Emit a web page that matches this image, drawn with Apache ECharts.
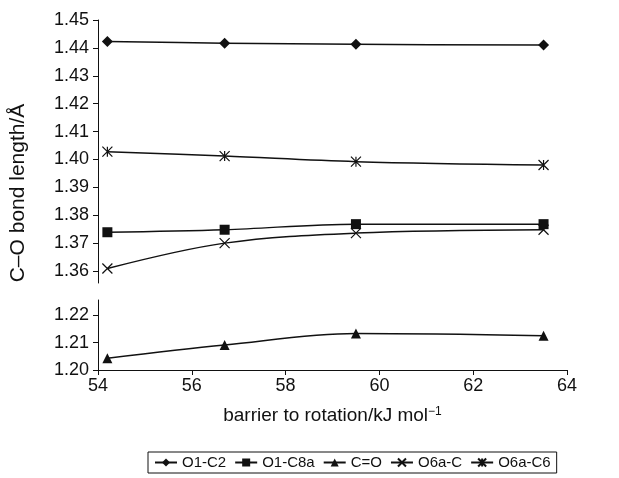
<!DOCTYPE html>
<html>
<head>
<meta charset="utf-8">
<script src="https://cdn.jsdelivr.net/npm/echarts@6/dist/echarts.min.js"></script>
<style>
  html, body { margin: 0; padding: 0; background: #fff; }
  #chart { width: 619px; height: 478px; }
</style>
</head>
<body>
<div id="chart"></div>
<script>
  // barrier to rotation (kJ/mol)
  const barrier = [54.2, 56.7, 59.5, 63.5]
  // bond lengths (Å)
  const o1c2 = [1.4423, 1.4417, 1.4413, 1.4410]
  const o1c8a = [1.3739, 1.3748, 1.3768, 1.3768]
  const cEqO = [1.2043, 1.2091, 1.2133, 1.2125]
  const o6aC = [1.3609, 1.3700, 1.3736, 1.3748]
  const o6aC6 = [1.4028, 1.4012, 1.3992, 1.3980]
  const topTicks = [1.36, 1.37, 1.38, 1.39, 1.40, 1.41, 1.42, 1.43, 1.44, 1.45]
  const bottomTicks = [1.20, 1.21, 1.22]

  const pairs = (ys) => barrier.map((x, i) => [x, ys[i]])
  const FONT = 'Liberation Sans, Arial, sans-serif'
  const ink = '#111'

  const xSymbol = 'path://M0,0 L10,10 M10,0 L0,10'
  const starSymbol = 'path://M0,0 L10,10 M10,0 L0,10 M5,0 L5,10'

  const chart = echarts.init(document.getElementById('chart'))

  const yAxisBase = (ticks) => ({
    type: 'value',
    axisLine: { show: true, lineStyle: { color: ink, width: 1 } },
    axisTick: { show: true, length: 5, customValues: ticks, lineStyle: { color: ink } },
    axisLabel: {
      customValues: ticks,
      color: ink, fontSize: 18, fontFamily: FONT, margin: 9,
      formatter: v => v.toFixed(2)
    },
    splitLine: { show: false }
  })

  const lineSeries = (name, data, symbol, size, grid) => ({
    name: name,
    type: 'line',
    xAxisIndex: grid, yAxisIndex: grid,
    data: pairs(data),
    smooth: 0.35,
    symbol: symbol,
    symbolSize: size,
    showAllSymbol: true,
    lineStyle: { color: ink, width: 1.5 },
    itemStyle: symbol.startsWith('path')
      ? { color: '#fff', borderColor: ink, borderWidth: 1.2 }
      : { color: ink },
    emphasis: { disabled: true }
  })

  const option = {
    animation: false,
    backgroundColor: '#fff',
    textStyle: { fontFamily: FONT },
    grid: [
      { left: 98, right: 52, top: 20, height: 263 },
      { left: 98, right: 52, top: 300, height: 70 }
    ],
    xAxis: [
      { type: 'value', gridIndex: 0, min: 54, max: 64, interval: 2, show: false },
      {
        type: 'value', gridIndex: 1, min: 54, max: 64, interval: 2,
        axisLine: { show: true, lineStyle: { color: ink } },
        axisTick: { show: true, length: 5, lineStyle: { color: ink } },
        axisLabel: { color: ink, fontSize: 18, fontFamily: FONT, margin: 7 },
        splitLine: { show: false },
        name: '{a|barrier to rotation/kJ mol}{s|\u22121}',
        nameLocation: 'middle',
        nameGap: 36,
        nameTextStyle: {
          rich: {
            a: { fontSize: 19, color: ink, fontFamily: FONT },
            s: { fontSize: 12, color: ink, fontFamily: FONT, verticalAlign: 'top', padding: [0, 0, 8, 0] }
          }
        }
      }
    ],
    yAxis: [
      Object.assign(yAxisBase(topTicks), { gridIndex: 0, min: 1.3557, max: 1.45 }),
      Object.assign(yAxisBase(bottomTicks), { gridIndex: 1, min: 1.20, max: 1.2255 })
    ],
    graphic: [{
      type: 'text',
      x: 18, y: 193,
      rotation: Math.PI / 2,
      style: {
        text: 'C\u2013O bond length/\u00c5',
        fontSize: 21, fontFamily: FONT, fill: ink,
        align: 'center', verticalAlign: 'middle'
      }
    }],
    legend: {
      left: 148, top: 452,
      borderColor: ink, borderWidth: 1, borderRadius: 0,
      padding: [3, 6, 3, 6],
      itemGap: 8,
      itemWidth: 22, itemHeight: 10,
      textStyle: { fontSize: 15, color: ink, fontFamily: FONT },
      data: ['O1-C2', 'O1-C8a', 'C=O', 'O6a-C', 'O6a-C6']
    },
    series: [
      lineSeries('O1-C2', o1c2, 'diamond', 11, 0),
      lineSeries('O1-C8a', o1c8a, 'rect', 10, 0),
      lineSeries('C=O', cEqO, 'triangle', 10, 1),
      lineSeries('O6a-C', o6aC, xSymbol, 10, 0),
      lineSeries('O6a-C6', o6aC6, starSymbol, 10, 0)
    ]
  }

  chart.setOption(option)
</script>
</body>
</html>
